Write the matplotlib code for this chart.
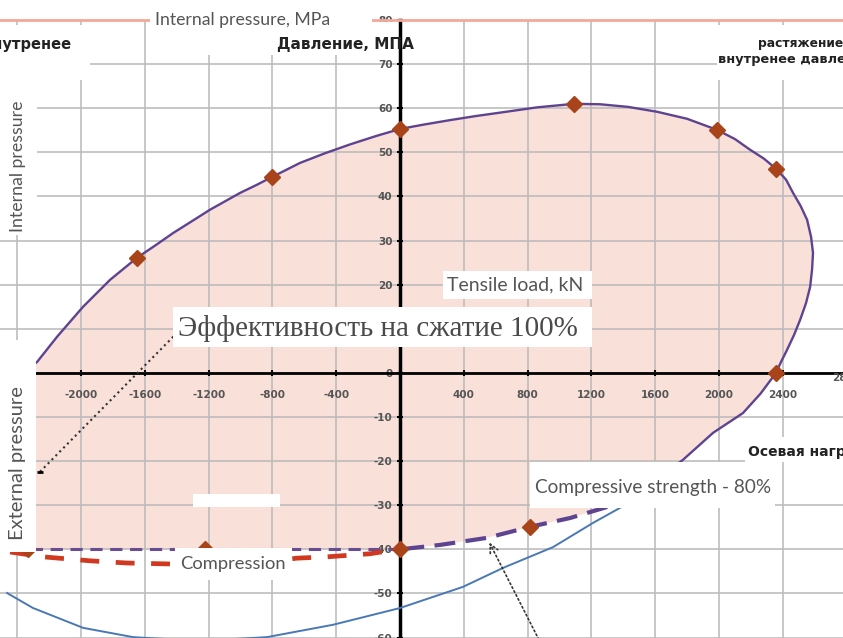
import matplotlib
matplotlib.use("Agg")
import matplotlib.pyplot as plt
from matplotlib.patches import Rectangle

W, H = 843, 638

# envelope, solid part (left -> top -> right -> down)
upper_x = [-2508, -2400, -2275, -2150, -1987, -1818, -1649, -1530, -1423, -1300, -1191, -1003, -900, -803,
           -627, -470, -313, -150, 0, 150, 313, 470, 627, 860, 1091, 1254, 1430, 1611, 1800, 1987,
           2100, 2194, 2280, 2357, 2420, 2464, 2512, 2552, 2577, 2589, 2583, 2571, 2545, 2508, 2470,
           2426, 2390, 2357, 2260, 2150, 1962, 1774, 1567, 1298]
upper_y = [-5, -1, 2.5, 8.2, 15.0, 21.1, 26.1, 29.0, 31.7, 34.5, 37.0, 40.8, 42.6, 44.4,
           47.6, 49.8, 51.8, 53.7, 55.3, 56.3, 57.3, 58.2, 59.0, 60.2, 61.0, 60.9, 60.3, 59.2, 57.6, 55.1,
           53.0, 50.6, 48.6, 46.3, 43.8, 40.8, 37.8, 34.7, 30.8, 27.2, 23.4, 19.5, 15.8, 12.0, 8.6,
           5.2, 2.6, 0, -4.7, -9.1, -13.6, -19.7, -25.4, -30.4]
# envelope, dashed lower part
lower_x = [1298, 1066, 815, 545, 251, 0]
lower_y = [-30.4, -32.9, -34.9, -37.4, -39.0, -40]
flat_x = [0, -2508]
flat_y = [-40, -40]

# calculated points (diamonds)
pts_x = [-1649, -803, 0, 1091, 1987, 2357, 2357, 815, 0, -1223, -2332]
pts_y = [26.1, 44.4, 55.3, 61.0, 55.1, 46.3, 0, -34.9, -40, -40, -40]

# red dashed compression curve
red_x = [-2445, -2238, -1944, -1712, -1461, -1066, -646, -458, -188, -31]
red_y = [-40.6, -41.7, -42.6, -43.1, -43.3, -43.8, -42.0, -41.7, -41.0, -40.1]

# blue curve
blue_x = [-2464, -2301, -1987, -1674, -1254, -834, -420, 0, 395, 646, 959, 1210, 1379, 1567]
blue_y = [-49.9, -53.3, -57.8, -59.9, -60.8, -59.9, -57.1, -53.3, -48.5, -44.2, -39.5, -34.0, -30.6, -26.5]

xticks = list(range(-2400, 2401, 400))
yticks = list(range(-60, 81, 10))

fig = plt.figure(figsize=(W / 100, H / 100), dpi=100)
ax = fig.add_axes([0, 0, 1, 618 / 638])
ax.set_xlim(-2508, 2777)
ax.set_ylim(-60.1, 80)

ax.fill(upper_x + lower_x[1:] + flat_x, upper_y + lower_y[1:] + flat_y, color='#f9e0d9', lw=0, zorder=1)
ax.plot(upper_x, upper_y, color='#5e4490', lw=1.7, zorder=3)
ax.plot(lower_x, lower_y, color='#5e4490', lw=3, dashes=(5, 2.5), zorder=3)
ax.plot(flat_x, flat_y, color='#6a4c93', lw=2.2, dashes=(4, 2.5), zorder=3)
ax.plot(blue_x, blue_y, color='#4a78b5', lw=1.4, zorder=3)
ax.plot(red_x, red_y, color='#d0391f', lw=3.4, dashes=(4, 3.5), zorder=3)
ax.plot(pts_x, pts_y, 'D', color='#a8431a', ms=8, zorder=4)

# dotted leader lines
ax.plot([-2257, -1392], [-22.4, 9.3], color='#333', lw=1.5, ls=':', zorder=4)
ax.plot([-2257], [-22.4], '_', color='black', ms=5, mew=2, zorder=4)
ax.annotate('', xy=(552, -37.9), xytext=(878, -61),
            arrowprops=dict(arrowstyle='->', color='#333', lw=1.2, ls=':', mutation_scale=15), zorder=5)

ax.spines['left'].set_position(('data', 0))
ax.spines['bottom'].set_position(('data', 0))
ax.spines['left'].set_linewidth(2.5)
ax.spines['bottom'].set_linewidth(2)
ax.spines['right'].set_visible(False)
ax.spines['top'].set_color('#f4a89a')
ax.spines['top'].set_linewidth(2)

ax.set_xticks(xticks)
ax.set_xticklabels(['' if v in (0, -2400) else str(v) for v in xticks])
ax.set_yticks(yticks)
ax.set_yticklabels(['' if v == 10 else str(v) for v in yticks])
ax.tick_params(direction='inout', length=5, width=1.5, colors='black', labelsize=7.5, labelcolor='#555')
ax.tick_params(axis='x', pad=10)
ax.tick_params(axis='y', pad=3)
for lab in ax.get_xticklabels() + ax.get_yticklabels():
    lab.set_fontweight('bold')
ax.text(2800, 0, '2800', transform=ax.transData, ha='center', va='top', fontsize=7.5,
        color='#555', fontweight='bold', clip_on=False)
ax.grid(True, color='#bdbdbd', lw=1.2)
ax.set_axisbelow('line')


def fx(px):
    return px / W


def fy(py):
    return 1 - py / H


def box(x0, y0, x1, y1):
    fig.add_artist(Rectangle((fx(x0), fy(y1)), fx(x1) - fx(x0), fy(y0) - fy(y1),
                             transform=fig.transFigure, facecolor='white', edgecolor='none', zorder=2))


box(150, 5, 372, 32)
box(0, 80, 37, 235)
box(0, 340, 36, 552)
box(0, 25, 90, 80)
box(200, 22, 395, 55)
box(717, 25, 843, 80)
box(745, 437, 843, 462)
box(443, 271, 592, 299)
box(173, 307, 592, 347)
box(175, 548, 292, 580)
box(530, 462, 775, 508)
box(193, 494, 280, 507)

sans = 'Lato'
grey = '#555555'
plain = dict(color=grey, family=sans, zorder=3)
fig.text(fx(155), fy(20), 'Internal pressure, MPa', ha='left', va='center', fontsize=12.7, **plain)
fig.text(fx(18), fy(166), 'Internal pressure', rotation=90, ha='center', va='center', fontsize=12.8, **plain)
fig.text(fx(18), fy(463), 'External pressure', rotation=90, ha='center', va='center', fontsize=14.5, **plain)
fig.text(fx(447), fy(285), 'Tensile load, kN', ha='left', va='center', fontsize=14, **plain)
fig.text(fx(178), fy(328), 'Эффективность на сжатие 100%', ha='left', va='center', fontsize=21,
         color='#4a4a4a', family='Liberation Serif', zorder=3)
fig.text(fx(180), fy(564), 'Compression', ha='left', va='center', fontsize=13.2, **plain)
fig.text(fx(535), fy(487), 'Compressive strength - 80%', ha='left', va='center', fontsize=13.7, **plain)

bold = dict(fontweight='bold', color='#222', family='DejaVu Sans', zorder=3)
fig.text(fx(72), fy(44), 'внутренее', ha='right', va='center', fontsize=10.5, **bold)
fig.text(fx(277), fy(45), 'Давление, МПА', ha='left', va='center', fontsize=11, **bold)
fig.text(fx(843), fy(43), 'растяжение', ha='right', va='center', fontsize=8.8, **bold)
fig.text(fx(718), fy(59), 'внутренее давление', ha='left', va='center', fontsize=9.3, **bold)
fig.text(fx(748), fy(452), 'Осевая нагрузка', ha='left', va='center', fontsize=10, **bold)

fig.savefig('out.png', dpi=100)
